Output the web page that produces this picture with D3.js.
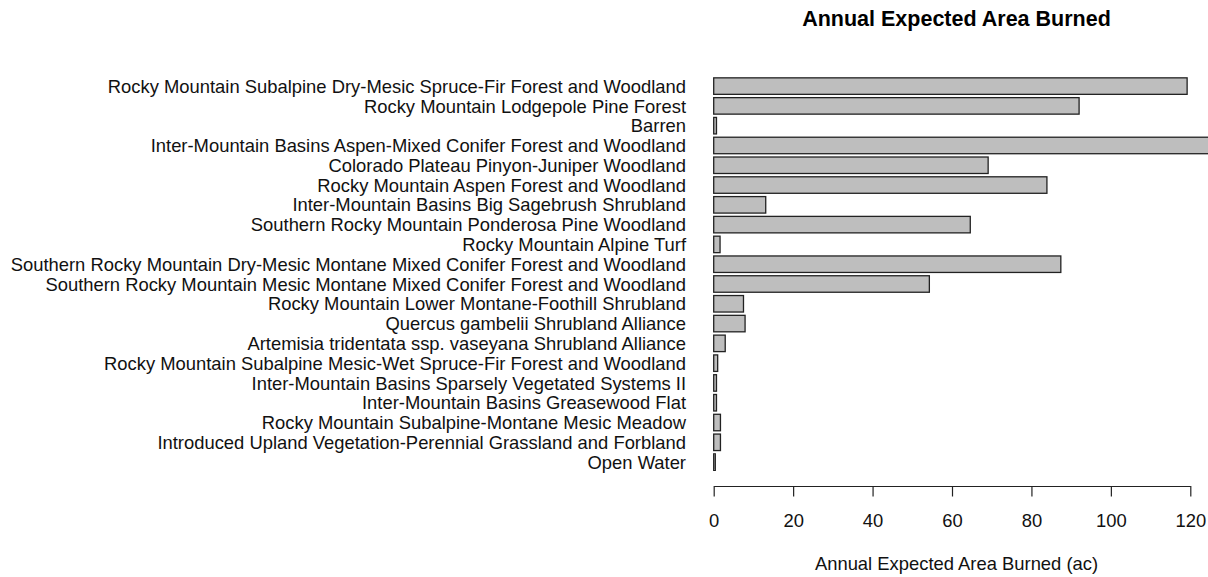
<!DOCTYPE html>
<html>
<head>
<meta charset="utf-8">
<script src="https://cdn.jsdelivr.net/npm/d3@7"></script>
<style>
  html, body { margin: 0; padding: 0; background: #fff; }
  svg { display: block; font-family: "Liberation Sans", Arial, sans-serif; }
</style>
</head>
<body>
<svg id="chart" width="1208" height="577"></svg>
<script>
const categories = [
  "Rocky Mountain Subalpine Dry-Mesic Spruce-Fir Forest and Woodland",
  "Rocky Mountain Lodgepole Pine Forest",
  "Barren",
  "Inter-Mountain Basins Aspen-Mixed Conifer Forest and Woodland",
  "Colorado Plateau Pinyon-Juniper Woodland",
  "Rocky Mountain Aspen Forest and Woodland",
  "Inter-Mountain Basins Big Sagebrush Shrubland",
  "Southern Rocky Mountain Ponderosa Pine Woodland",
  "Rocky Mountain Alpine Turf",
  "Southern Rocky Mountain Dry-Mesic Montane Mixed Conifer Forest and Woodland",
  "Southern Rocky Mountain Mesic Montane Mixed Conifer Forest and Woodland",
  "Rocky Mountain Lower Montane-Foothill Shrubland",
  "Quercus gambelii Shrubland Alliance",
  "Artemisia tridentata ssp. vaseyana Shrubland Alliance",
  "Rocky Mountain Subalpine Mesic-Wet Spruce-Fir Forest and Woodland",
  "Inter-Mountain Basins Sparsely Vegetated Systems II",
  "Inter-Mountain Basins Greasewood Flat",
  "Rocky Mountain Subalpine-Montane Mesic Meadow",
  "Introduced Upland Vegetation-Perennial Grassland and Forbland",
  "Open Water"
];
const values = [119.2, 92.0, 0.7, 135, 69.1, 83.9, 13.1, 64.6, 1.6, 87.4, 54.3, 7.5, 7.9, 2.9, 1.0, 0.7, 0.7, 1.7, 1.7, 0.4];
const xTicks = [0, 20, 40, 60, 80, 100, 120];
const title = "Annual Expected Area Burned";
const xTitle = "Annual Expected Area Burned (ac)";

const svg = d3.select("#chart");

const x = d3.scaleLinear().domain([0, 120]).range([713.7, 1190.3]);
const y = d3.scaleBand().domain(categories).range([76.2, 472]).paddingInner(0.1667).paddingOuter(0.0833);

svg.append("g").selectAll("rect")
  .data(values)
  .join("rect")
  .attr("x", x(0))
  .attr("y", (d, i) => y(categories[i]))
  .attr("width", d => x(d) - x(0))
  .attr("height", y.bandwidth())
  .attr("fill", "#bebebe")
  .attr("stroke", "#222")
  .attr("stroke-width", 1.3);

// category labels
svg.append("g").selectAll("text")
  .data(categories)
  .join("text")
  .attr("x", 686)
  .attr("y", d => y(d) + y.bandwidth() / 2)
  .attr("dy", "0.36em")
  .attr("text-anchor", "end")
  .attr("font-size", "18.4px")
  .attr("fill", "#111")
  .text(d => d);

// x axis
const axis = d3.axisBottom(x).tickValues(xTicks).tickSize(10.5).tickPadding(17).tickSizeOuter(0);
const gx = svg.append("g").attr("transform", "translate(0,486)").call(axis);
gx.select(".domain").attr("stroke", "#222").attr("stroke-width", 1.2);
gx.selectAll(".tick line").attr("stroke", "#222").attr("stroke-width", 1.2);
gx.selectAll(".tick text").attr("font-size", "18.4px").attr("fill", "#111")
  .attr("font-family", "Liberation Sans, Arial, sans-serif");

svg.append("text")
  .attr("x", 956.5).attr("y", 570)
  .attr("text-anchor", "middle")
  .attr("font-size", "18.4px")
  .attr("fill", "#111")
  .text(xTitle);

svg.append("text")
  .attr("x", 956.5).attr("y", 26)
  .attr("text-anchor", "middle")
  .attr("font-size", "21.5px")
  .attr("font-weight", "bold")
  .attr("fill", "#000")
  .text(title);
</script>
</body>
</html>
